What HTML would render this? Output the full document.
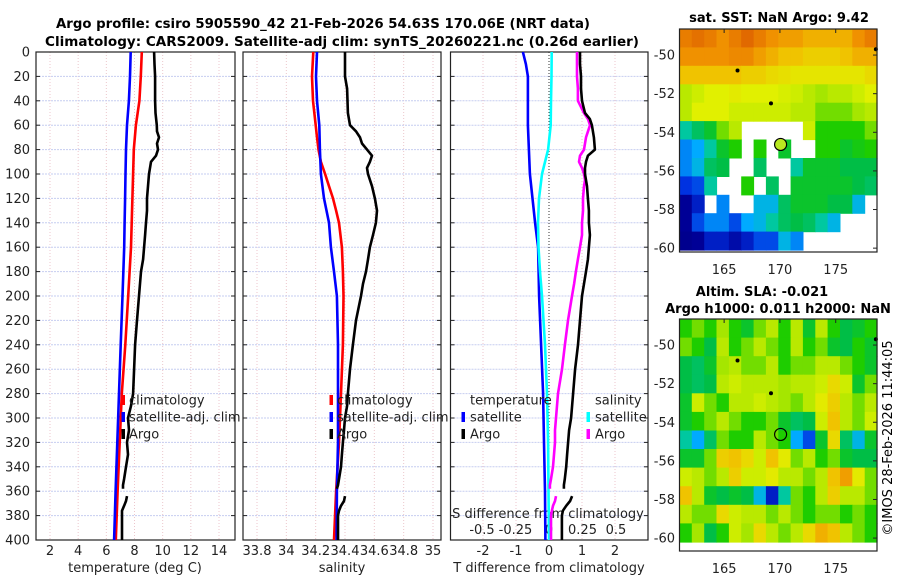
<!DOCTYPE html>
<html><head><meta charset="utf-8"><title>Argo profile</title>
<style>
html,body{margin:0;padding:0;background:#fff;}
svg{display:block;font-family:"DejaVu Sans","Liberation Sans",sans-serif;}
</style></head>
<body>
<svg id="fig" width="900" height="580" viewBox="0 0 900 580" xmlns="http://www.w3.org/2000/svg">
<rect width="900" height="580" fill="#fff"/>
<text x="323" y="28" text-anchor="middle" font-size="13" font-weight="bold" textLength="534" lengthAdjust="spacingAndGlyphs">Argo profile: csiro 5905590_42 21-Feb-2026 54.63S 170.06E (NRT data)</text>
<text x="342" y="46" text-anchor="middle" font-size="13" font-weight="bold" textLength="594" lengthAdjust="spacingAndGlyphs">Climatology: CARS2009. Satellite-adj clim: synTS_20260221.nc (0.26d earlier)</text>
<text x="779" y="22" text-anchor="middle" font-size="13" font-weight="bold">sat. SST: NaN Argo: 9.42</text>
<text x="762" y="296" text-anchor="middle" font-size="13" font-weight="bold">Altim. SLA: -0.021</text>
<text x="778" y="313" text-anchor="middle" font-size="13" font-weight="bold">Argo h1000: 0.011 h2000: NaN</text>
<text x="0" y="0" font-size="13" text-anchor="middle" transform="translate(892,438) rotate(-90)">©IMOS 28-Feb-2026 11:44:05</text>
<g id="plots"></g>
</svg>
<script>
// ---------- data ----------
const smoothDepths = [0,20,40,60,80,100,120,140,160,200,240,280,320,360,400];
const climTemp = [8.52,8.45,8.35,8.1,7.95,7.9,7.85,7.8,7.75,7.55,7.35,7.1,6.95,6.8,6.67];
const satTemp  = [7.73,7.68,7.6,7.47,7.4,7.36,7.33,7.3,7.27,7.15,7.02,6.9,6.78,6.66,6.55];
const climSalDepths = [0,20,40,60,70,80,90,100,110,120,130,140,160,180,200,240,280,320,360,400];
const climSal = [34.184,34.175,34.182,34.2,34.209,34.219,34.236,34.264,34.291,34.318,34.339,34.359,34.379,34.386,34.39,34.386,34.373,34.359,34.339,34.325];
const satSalDepths = [0,20,40,60,80,100,120,140,160,180,200,240,280,320,360,400];
const satSal = [34.209,34.202,34.209,34.225,34.229,34.236,34.257,34.291,34.304,34.325,34.345,34.352,34.352,34.352,34.345,34.343];
const argoDepths = [0,10,20,30,40,50,60,65,70,75,80,85,90,95,100,110,120,130,140,150,160,170,180,190,200,220,240,260,280,290,300,310,320,330,340,350,355,358,null,364,368,372,376,380,390,400];
const argoTemp = [9.39,9.42,9.46,9.46,9.46,9.49,9.58,9.6,9.74,9.6,9.67,9.53,9.17,9.1,9.03,8.96,8.89,8.89,8.82,8.75,8.68,8.61,8.46,8.39,8.32,8.18,8.04,7.97,7.9,7.75,7.54,7.61,7.47,7.54,7.4,7.26,7.18,7.18,null,7.47,7.4,7.26,7.11,7.11,7.11,7.11];
const argoSal = [34.4,34.4,34.4,34.414,34.417,34.42,34.434,34.475,34.502,34.516,34.55,34.584,34.57,34.55,34.557,34.584,34.604,34.618,34.611,34.591,34.57,34.557,34.543,34.523,34.509,34.475,34.454,34.434,34.42,34.414,34.4,34.393,34.386,34.379,34.373,34.359,34.352,34.345,null,34.4,34.393,34.373,34.359,34.352,34.352,34.352];
const satTDiffDepths = [0,10,20,60,100,140,160,200,240,280,320,360,400];
const satTDiff = [-0.79,-0.7,-0.64,-0.64,-0.58,-0.42,-0.33,-0.3,-0.24,-0.18,-0.15,-0.12,-0.11];
const satSDiffDepths = [0,20,40,60,80,100,120,140,160,180,200,240,280,320,360,400];
const satSDiff = [0.02,0.019,0.015,0.013,-0.007,-0.052,-0.075,-0.082,-0.078,-0.067,-0.052,-0.03,-0.015,-0.007,-0.004,0];
const argoTDiffDepths = [0,10,20,30,40,50,55,60,70,80,85,90,95,100,110,120,130,140,150,160,170,180,190,200,220,240,260,280,290,300,310,320,330,340,350,355,358,null,364,368,372,376,380,390,400];
const argoTDiff = [0.94,0.94,0.97,0.97,1.0,1.09,1.24,1.3,1.36,1.39,1.18,1.12,1.09,1.09,1.15,1.18,1.21,1.21,1.24,1.21,1.18,1.12,1.06,1.0,0.94,0.88,0.79,0.73,0.7,0.67,0.61,0.58,0.55,0.52,0.48,0.45,0.45,null,0.7,0.64,0.52,0.42,0.39,0.39,0.39];
const argoSDiffDepths = [0,10,20,30,40,50,55,60,65,70,80,85,90,95,100,105,110,120,130,140,150,160,170,180,190,200,220,240,260,280,290,300,310,320,330,340,350,355,358,null,364,368,372,376,380,390,400];
const argoSDiff = [0.209,0.209,0.209,0.216,0.216,0.261,0.291,0.306,0.291,0.276,0.261,0.231,0.224,0.246,0.261,0.269,0.261,0.254,0.254,0.246,0.246,0.231,0.216,0.201,0.187,0.172,0.142,0.119,0.097,0.067,0.06,0.052,0.045,0.045,0.037,0.03,0.015,0.007,0.007,null,0.052,0.045,0.03,0.022,0.015,0.015,0.015];
const depthTicks = [0,20,40,60,80,100,120,140,160,180,200,220,240,260,280,300,320,340,360,380,400];
const tempTicks = [2,4,6,8,10,12,14];
const salTicks = [33.8,34,34.2,34.4,34.6,34.8,35];
const salTickLabels = ["33.8","34","34.2","34.4","34.6","34.8","35"];
const tDiffTicks = [-2,-1,0,1,2];
const sDiffTicks = [-0.5,-0.25,0,0.25,0.5];
const sDiffTickLabels = ["-0.5","-0.25","0","0.25","0.5"];
const latTicks = [-50,-52,-54,-56,-58,-60];
const lonTicks = [165,170,175];
const argoLon = 170.06, argoLat = -54.63;
const islandLon = [166.2,169.2,178.6];
const islandLat = [-50.8,-52.5,-49.7];
const N = null;
const sstGrid = [
[0.85,0.88,0.85,0.8,0.85,0.9,0.85,0.8,0.78,0.78,0.75,0.75,0.75,0.75,0.8,0.85],
[0.8,0.8,0.8,0.8,0.82,0.82,0.78,0.75,0.72,0.72,0.7,0.7,0.7,0.72,0.75,0.75],
[0.72,0.72,0.72,0.72,0.72,0.7,0.7,0.68,0.67,0.66,0.66,0.66,0.66,0.66,0.66,0.68],
[0.6,0.62,0.64,0.64,0.65,0.64,0.64,0.64,0.63,0.62,0.6,0.58,0.6,0.6,0.62,0.64],
[0.6,0.64,0.64,0.64,0.62,0.62,0.62,0.62,0.62,0.6,0.6,0.55,0.55,0.55,0.58,0.6],
[0.35,0.4,0.45,0.55,0.6,N,N,N,N,N,0.62,0.5,0.5,0.5,0.5,0.55],
[0.25,0.28,0.35,0.45,0.5,N,0.5,N,0.45,N,N,0.5,0.5,0.45,0.48,0.5],
[0.25,0.3,0.4,0.42,N,N,0.4,N,N,0.35,0.45,0.45,0.45,0.42,0.42,0.42],
[0.18,0.2,0.35,N,N,0.5,N,0.4,N,0.45,0.45,0.45,0.45,0.45,0.42,0.4],
[0.1,0.15,N,0.25,N,N,0.3,0.3,0.4,0.45,0.45,0.45,0.42,0.42,0.3,N],
[0.1,0.2,0.25,0.25,0.2,0.28,0.3,0.35,0.4,0.42,0.4,0.35,0.3,N,N,N],
[0.08,0.1,0.15,0.15,0.12,0.15,0.2,0.2,0.3,0.25,N,N,N,N,N,N]];
const slaGrid = [
[0.5,0.55,0.5,0.58,0.5,0.45,0.55,0.6,0.5,0.6,0.45,0.6,0.5,0.42,0.45,0.5],
[0.55,0.5,0.42,0.6,0.5,0.55,0.6,0.55,0.5,0.6,0.5,0.55,0.45,0.42,0.5,0.45],
[0.42,0.4,0.45,0.58,0.6,0.55,0.55,0.6,0.5,0.55,0.55,0.6,0.6,0.55,0.5,0.45],
[0.42,0.4,0.42,0.6,0.62,0.6,0.6,0.6,0.58,0.6,0.6,0.62,0.68,0.62,0.45,0.55],
[0.45,0.62,0.55,0.5,0.6,0.6,0.62,0.6,0.58,0.55,0.6,0.65,0.7,0.6,0.55,0.6],
[0.45,0.5,0.55,0.6,0.55,0.5,0.5,0.55,0.45,0.4,0.42,0.62,0.72,0.6,0.55,0.62],
[0.35,0.28,0.4,0.55,0.5,0.5,0.6,0.55,0.5,0.28,0.2,0.45,0.68,0.4,0.3,0.45],
[0.45,0.45,0.55,0.7,0.72,0.68,0.62,0.72,0.65,0.55,0.6,0.5,0.55,0.45,0.42,0.42],
[0.62,0.6,0.55,0.6,0.7,0.62,0.62,0.65,0.6,0.6,0.55,0.6,0.72,0.78,0.65,0.55],
[0.72,0.6,0.45,0.42,0.45,0.42,0.3,0.15,0.35,0.55,0.5,0.6,0.7,0.6,0.6,0.55],
[0.6,0.55,0.55,0.68,0.62,0.6,0.6,0.55,0.6,0.55,0.5,0.55,0.55,0.5,0.55,0.5],
[0.5,0.58,0.42,0.5,0.62,0.58,0.68,0.6,0.55,0.6,0.68,0.75,0.72,0.6,0.55,0.5]];

// ---------- helpers ----------
const NS = "http://www.w3.org/2000/svg";
const root = document.getElementById("plots");
function mk(tag, attrs, parent) {
  const e = document.createElementNS(NS, tag);
  for (const k in attrs) e.setAttribute(k, attrs[k]);
  (parent || root).appendChild(e);
  return e;
}
const Y0 = 52, Y1 = 540;
function yDepth(d) { return Y0 + (d / 400) * (Y1 - Y0); }
function lin(d0, d1, r0, r1) { return v => r0 + (v - d0) / (d1 - d0) * (r1 - r0); }
const xTemp = lin(2, 14, 50, 219);
const xSal = lin(33.8, 35, 257, 433);
const xTD = lin(0, 2, 549, 615);
const xSD = lin(0, 0.5, 549, 616);
const panels = [[36, 235], [243, 441], [450.5, 648]];

function pathFrom(vals, depths, xf) {
  let d = "", pen = false;
  for (let i = 0; i < vals.length; i++) {
    if (vals[i] === null || depths[i] === null) { pen = false; continue; }
    d += (pen ? "L" : "M") + xf(vals[i]).toFixed(1) + "," + yDepth(depths[i]).toFixed(1);
    pen = true;
  }
  return d;
}

// ---------- profile panels ----------
panels.forEach((p, pi) => {
  const g = mk("g", {});
  
  
  const ticks = pi === 0 ? tempTicks.map(xTemp) : pi === 1 ? salTicks.map(xSal) : tDiffTicks.map(xTD);
  ticks.forEach(x => {
    const l = mk("line", {x1: x, x2: x, y1: Y0, y2: Y1, stroke: "#ecc6cc", "stroke-width": 1, "stroke-dasharray": "1,2"}, g);
    
    
  });
  depthTicks.forEach(d => {
    const y = yDepth(d);
    const l = mk("line", {x1: p[0], x2: p[1], y1: y, y2: y, stroke: "#c6cdf0", "stroke-width": 1, "stroke-dasharray": "2,1"}, g);
    
    
    const t1 = mk("line", {x1: p[0], x2: p[0] + 4, y1: y, y2: y, stroke: "#222"}, g);
    
    
    const t2 = mk("line", {x1: p[1] - 4, x2: p[1], y1: y, y2: y, stroke: "#222"}, g);
    
    
  });
  const fr = mk("rect", {x: p[0], y: Y0, width: p[1] - p[0], height: Y1 - Y0, fill: "none", stroke: "#222", "stroke-width": 1.2}, g);
  
  
});

// depth labels
depthTicks.forEach(d => {
  const t = mk("text", {x: 30, y: yDepth(d) + 4.5, "text-anchor": "end", "font-size": 13, fill: "#222"});
  t.textContent = String(d);
  
  
});
// x tick labels
function xLabels(vals, labels, xf, y, name) {
  vals.forEach((v, i) => {
    const t = mk("text", {x: xf(v), y: y, "text-anchor": "middle", "font-size": 13, fill: "#222"});
    t.textContent = labels[i];
    
    
  });
}
xLabels(tempTicks, tempTicks.map(String), xTemp, 555, 'temperature-tick-label');
xLabels(salTicks, salTickLabels, xSal, 555, 'salinity-tick-label');
xLabels(tDiffTicks, tDiffTicks.map(String), xTD, 555, 'tdiff-tick-label');
xLabels(sDiffTicks, sDiffTickLabels, xSD, 534, 'sdiff-tick-label');
function label(txt, x, y, name, anchor) {
  const t = mk("text", {x: x, y: y, "text-anchor": anchor || "middle", "font-size": 13, fill: "#222"});
  t.textContent = txt;
  
  
  return t;
}
label("temperature (deg C)", 135, 572, 'temperature-axis-title');
label("salinity", 342, 572, 'salinity-axis-title');
label("T difference from climatology", 549, 572, 'tdiff-axis-title');
label("S difference from climatology", 548, 518, 'sdiff-axis-title');

// zero line panel 3
const zl = mk("line", {x1: xTD(0), x2: xTD(0), y1: Y0, y2: Y1, stroke: "#333", "stroke-width": 1, "stroke-dasharray": "1,2"});



function series(vals, depths, xf, color, name) {
  const pth = mk("path", {d: pathFrom(vals, depths, xf), fill: "none", stroke: color, "stroke-width": 2.6, "stroke-linejoin": "round"});
  
  
}
series(climTemp, smoothDepths, xTemp, "#ff0000", 'climatology-temperature-line');
series(satTemp, smoothDepths, xTemp, "#0000ff", 'satellite-adj-temperature-line');
series(argoTemp, argoDepths, xTemp, "#000000", 'argo-temperature-line');
series(climSal, climSalDepths, xSal, "#ff0000", 'climatology-salinity-line');
series(satSal, satSalDepths, xSal, "#0000ff", 'satellite-adj-salinity-line');
series(argoSal, argoDepths, xSal, "#000000", 'argo-salinity-line');
series(satTDiff, satTDiffDepths, xTD, "#0000ff", 'satellite-tdiff-line');
series(satSDiff, satSDiffDepths, xSD, "#00ffff", 'satellite-sdiff-line');
series(argoSDiff, argoSDiffDepths, xSD, "#ff00ff", 'argo-sdiff-line');
series(argoTDiff, argoTDiffDepths, xTD, "#000000", 'argo-tdiff-line');

// legends
function legendEntry(mx, tx, y, color, txt, name) {
  if (color) {
    const r = mk("rect", {x: mx - 1.5, y: y - 5, width: 3.5, height: 10, fill: color});
    
    
  }
  label(txt, tx, y + 4.5, name, "start");
}
legendEntry(123, 129, 400, "#ff0000", "climatology", 'legend-climatology');
legendEntry(123, 129, 417, "#0000ff", "satellite-adj. clim", 'legend-satellite-adj');
legendEntry(123, 129, 434, "#000000", "Argo", 'legend-argo');
legendEntry(331, 337, 400, "#ff0000", "climatology", 'legend-climatology-sal');
legendEntry(331, 337, 417, "#0000ff", "satellite-adj. clim", 'legend-satellite-adj-sal');
legendEntry(331, 337, 434, "#000000", "Argo", 'legend-argo-sal');
legendEntry(0, 470, 400, null, "temperature", 'legend-temperature-header');
legendEntry(463, 470, 417, "#0000ff", "satellite", 'legend-tdiff-satellite');
legendEntry(463, 470, 434, "#000000", "Argo", 'legend-tdiff-argo');
legendEntry(0, 595, 400, null, "salinity", 'legend-salinity-header');
legendEntry(588, 595, 417, "#00ffff", "satellite", 'legend-sdiff-satellite');
legendEntry(588, 595, 434, "#ff00ff", "Argo", 'legend-sdiff-argo');

// ---------- maps ----------
const cmapStops = [[0,[0,0,110]],[0.1,[0,0,150]],[0.18,[0,50,225]],[0.28,[0,170,255]],[0.35,[0,200,160]],[0.42,[0,190,70]],[0.5,[30,205,0]],[0.58,[165,230,0]],[0.64,[225,240,0]],[0.72,[240,195,0]],[0.8,[240,145,0]],[0.9,[225,105,0]],[1,[200,50,0]]];
function cmap(v) {
  for (let i = 1; i < cmapStops.length; i++) {
    if (v <= cmapStops[i][0]) {
      const a = cmapStops[i - 1], b = cmapStops[i];
      const t = (v - a[0]) / (b[0] - a[0]);
      const c = a[1].map((ca, k) => Math.round(ca + (b[1][k] - ca) * t));
      return "rgb(" + c.join(",") + ")";
    }
  }
  return "rgb(200,50,0)";
}
function drawMap(top, bottom, latTop, latBottom, grid, dataLatBottom, name, filledMarker) {
  const L = 679.5, R = 877;
  const lon0 = 161.0, lon1 = 178.7;
  const xLon = lin(lon0, lon1, L, R);
  const yLat = lin(latTop, latBottom, top, bottom);
  const g = mk("g", {});
  
  
  const rows = grid.length, cols = grid[0].length;
  const cw = (lon1 - lon0) / cols, ch = (latTop - dataLatBottom) / rows;
  grid.forEach((row, ri) => row.forEach((v, ci) => {
    if (v === null) return;
    const x0 = xLon(lon0 + ci * cw), x1 = xLon(lon0 + (ci + 1) * cw);
    const y0 = yLat(latTop - ri * ch), y1 = yLat(latTop - (ri + 1) * ch);
    const r = mk("rect", {x: x0.toFixed(1), y: y0.toFixed(1), width: (x1 - x0 + 0.6).toFixed(1), height: (y1 - y0 + 0.6).toFixed(1), fill: cmap(v)}, g);
    
    
  }));
  islandLon.forEach((lo, i) => {
    const c = mk("circle", {cx: xLon(lo), cy: yLat(islandLat[i]), r: 2, fill: "#000"}, g);
    
    
  });
  const m = mk("circle", {cx: xLon(argoLon), cy: yLat(argoLat), r: 6, fill: filledMarker ? "#b8e820" : "none", stroke: "#000", "stroke-width": 1.2}, g);
  
  
  const fr = mk("rect", {x: L, y: top, width: R - L, height: bottom - top, fill: "none", stroke: "#222", "stroke-width": 1.2}, g);
  
  
  latTicks.forEach(la => {
    const y = yLat(la);
    const tk = mk("line", {x1: R - 4, x2: R, y1: y, y2: y, stroke: "#222"}, g);
    
    
    const t = mk("text", {x: 675, y: y + 4.5, "text-anchor": "end", "font-size": 13, fill: "#222"}, g);
    t.textContent = String(la);
    
    
  });
  lonTicks.forEach(lo => {
    const x = xLon(lo);
    const tk = mk("line", {x1: x, x2: x, y1: top, y2: top + 4, stroke: "#222"}, g);
    
    
    const t = mk("text", {x: x, y: bottom + 22, "text-anchor": "middle", "font-size": 13, fill: "#222"}, g);
    t.textContent = String(lo);
    
    
  });
}
drawMap(29, 252, -48.65, -60.2, sstGrid, -60.1, 'sst-map', true);
drawMap(319, 551, -48.65, -60.67, slaGrid, -60.2, 'sla-map', false);
</script>
</body></html>
